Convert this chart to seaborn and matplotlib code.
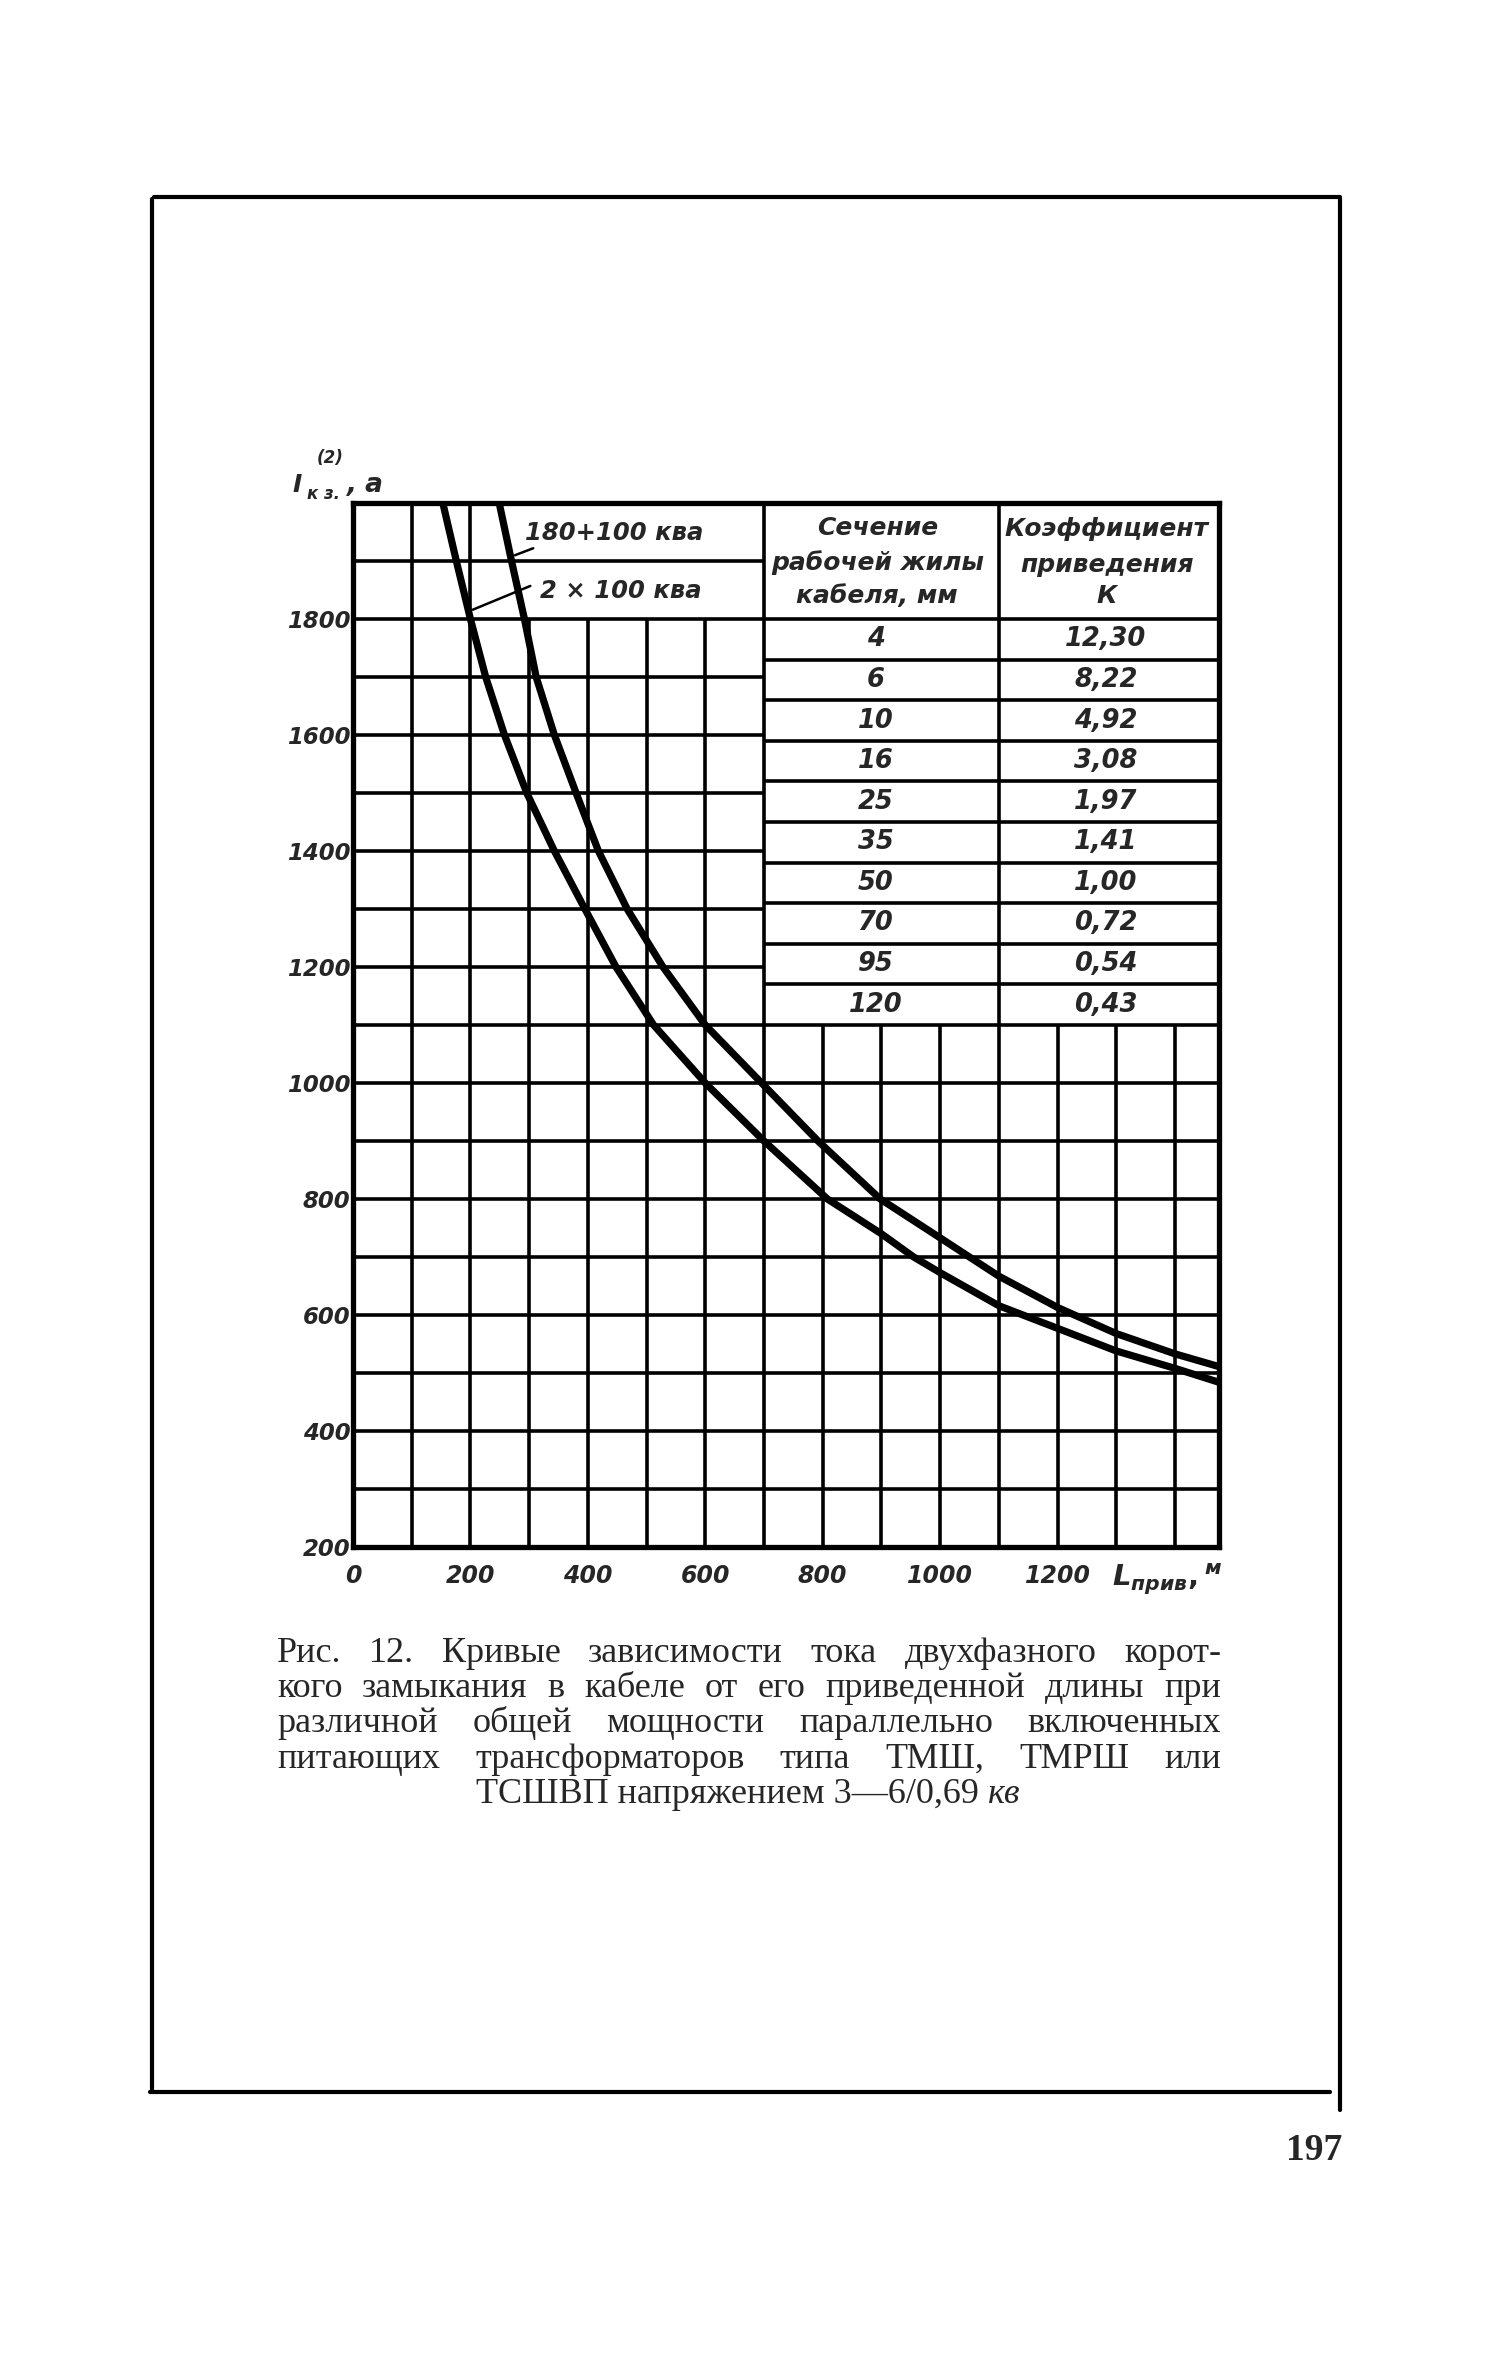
import numpy as np
import pandas as pd
import matplotlib
matplotlib.use('Agg')
import matplotlib.pyplot as plt
import seaborn as sns

# ток двухфазного к.з. (а) от приведенной длины кабеля (м)
len_2x100 = [153, 176, 200, 226, 258, 296, 343, 395, 448, 512, 600, 700, 808, 900, 955,
             1000, 1100, 1200, 1300, 1400, 1475]
cur_2x100 = [2000, 1900, 1800, 1700, 1600, 1500, 1400, 1300, 1200, 1100, 1000, 900, 800, 740, 700,
             673, 616, 577, 538, 508, 484]
len_180 = [249, 270, 292, 312, 343, 380, 418, 467, 528, 600, 696, 792, 898,
           1000, 1100, 1200, 1300, 1400, 1475]
cur_180 = [2000, 1900, 1800, 1700, 1600, 1500, 1400, 1300, 1200, 1100, 1000, 900, 800,
           733, 667, 613, 568, 533, 511]

# таблица коэффициентов приведения
sections = ['4', '6', '10', '16', '25', '35', '50', '70', '95', '120']
k_values = ['12,30', '8,22', '4,92', '3,08', '1,97', '1,41', '1,00', '0,72', '0,54', '0,43']

x_ticks = [0, 200, 400, 600, 800, 1000, 1200]
y_ticks = [200, 400, 600, 800, 1000, 1200, 1400, 1600, 1800]

caption = [
    'Рис. 12. Кривые зависимости тока двухфазного корот-',
    'кого замыкания в кабеле от его приведенной длины при',
    'различной общей мощности параллельно включенных',
    'питающих трансформаторов типа ТМШ, ТМРШ или',
]
caption_last = 'ТСШВП напряжением 3—6/0,69 '

sns.set_style('white')
plt.rcParams['font.family'] = ['DejaVu Sans']
plt.rcParams['mathtext.fontset'] = 'custom'
plt.rcParams['mathtext.it'] = 'DejaVu Sans:italic:bold'
plt.rcParams['mathtext.rm'] = 'DejaVu Sans:bold'
plt.rcParams['mathtext.bf'] = 'DejaVu Sans:italic:bold'

fig = plt.figure(figsize=(15, 23.62), dpi=100)
bg = fig.add_axes([0, 0, 1, 1])
bg.set_xlim(0, 1500)
bg.set_ylim(2362, 0)
bg.axis('off')

ax = fig.add_axes([353 / 1500, 1 - 1547 / 2362, (1219 - 353) / 1500, (1547 - 503) / 2362])
ax.set_xlim(0, 1475)
ax.set_ylim(200, 2000)

# сетка
g = dict(color='black', lw=2.6, zorder=1)
ax.vlines([100, 200, 700, 1100], 200, 2000, **g)
ax.vlines([300, 400, 500, 600], 200, 1800, **g)
ax.vlines([800, 900, 1000, 1200, 1300, 1400], 200, 1100, **g)
ax.hlines(np.arange(300, 1200, 100), 0, 1475, **g)
ax.hlines([1200, 1300, 1400, 1500, 1600, 1700, 1900], 0, 700, **g)
ax.hlines(1800, 0, 1475, **g)
ax.hlines(np.arange(1730, 1100, -70), 700, 1475, **g)

# кривые
df = pd.concat([
    pd.DataFrame({'L': len_2x100, 'I': cur_2x100, 's': '2 × 100 ква'}),
    pd.DataFrame({'L': len_180, 'I': cur_180, 's': '180+100 ква'}),
])
sns.lineplot(data=df, x='L', y='I', units='s', estimator=None, sort=False,
             color='black', lw=5.2, ax=ax, legend=False, zorder=3,
             solid_joinstyle='round', solid_capstyle='butt')

for s in ax.spines.values():
    s.set_linewidth(3.8)
    s.set_color('black')
    s.set_zorder(5)

ital = dict(fontweight='bold', fontstyle='italic')
ax.set_xticks(x_ticks)
ax.set_xticklabels([str(v) for v in x_ticks], fontsize=17, **ital)
ax.set_yticks(y_ticks)
ax.set_yticklabels([str(v) for v in y_ticks], fontsize=16.5, **ital)
ax.tick_params(axis='x', length=0, pad=12)
ax.tick_params(axis='y', length=0, pad=2)
ax.set_xlabel('')
ax.set_ylabel('')

# подписи кривых
ax.plot([276, 307], [1910, 1922], color='black', lw=1.8, zorder=4)
ax.plot([204, 302], [1816, 1857], color='black', lw=1.8, zorder=4)
ax.text(293, 1948, '180+100 ква', ha='left', va='center', fontsize=17.5, **ital)
ax.text(319, 1848, '2 × 100 ква', ha='left', va='center', fontsize=17.5, **ital)

# таблица
head1 = ['Сечение', 'рабочей жилы', 'кабеля, мм']
head2 = ['Коэффициент', 'приведения', 'К']
for txt, y in zip(head1, [1957, 1898, 1840]):
    ax.text(893, y, txt, ha='center', va='center', fontsize=18, **ital)
for txt, y in zip(head2, [1955, 1893, 1840]):
    ax.text(1284, y, txt, ha='center', va='center', fontsize=18, **ital)
for i, (sec, k) in enumerate(zip(sections, k_values)):
    y = 1800 - 35 - 70 * i
    ax.text(890, y, sec, ha='center', va='center', fontsize=18.5, **ital)
    ax.text(1282, y, k, ha='center', va='center', fontsize=18.5, **ital)

# подписи осей
bg.text(292, 492, 'I', ha='left', va='baseline', fontsize=18, **ital)
bg.text(317, 463, '(2)', ha='left', va='baseline', fontsize=12, **ital)
bg.text(307, 499, 'к з.', ha='left', va='baseline', fontsize=12, **ital)
bg.text(347, 492, ', а', ha='left', va='baseline', fontsize=19, **ital)
bg.text(1112, 1586, r'$L_{прив},^{м}$', ha='left', va='baseline', fontsize=21)

# рамка страницы
fr = dict(color='black', lw=3)
bg.plot([154, 1340], [197, 197], **fr)
bg.plot([152, 152], [199, 2092], **fr)
bg.plot([1340, 1340], [199, 2110], **fr)
bg.plot([150, 1330], [2092, 2092], **fr)
bg.text(1342, 2160, '197', ha='right', va='baseline', fontsize=27,
        family='Liberation Serif', fontweight='bold')

# подпись рисунка (по ширине)
renderer = fig.canvas.get_renderer()
cap = dict(fontsize=26, family='Liberation Serif')
x0, x1 = 277, 1221
base = [1662, 1697, 1732, 1768]
for line, yb in zip(caption, base):
    words = line.split()
    items = [bg.text(0, yb, w, ha='left', va='baseline', **cap) for w in words]
    widths = [t.get_window_extent(renderer).width for t in items]
    gap = (x1 - x0 - sum(widths)) / (len(words) - 1)
    x = x0
    for t, w in zip(items, widths):
        t.set_x(x)
        x += w + gap

t1 = bg.text(0, 1803, caption_last, ha='left', va='baseline', **cap)
t2 = bg.text(0, 1803, 'кв', ha='left', va='baseline', fontstyle='italic', **cap)
w1 = t1.get_window_extent(renderer).width
w2 = t2.get_window_extent(renderer).width
xs = 748 - (w1 + w2) / 2
t1.set_x(xs)
t2.set_x(xs + w1)

fig.savefig('out.png', dpi=100, facecolor='white')
